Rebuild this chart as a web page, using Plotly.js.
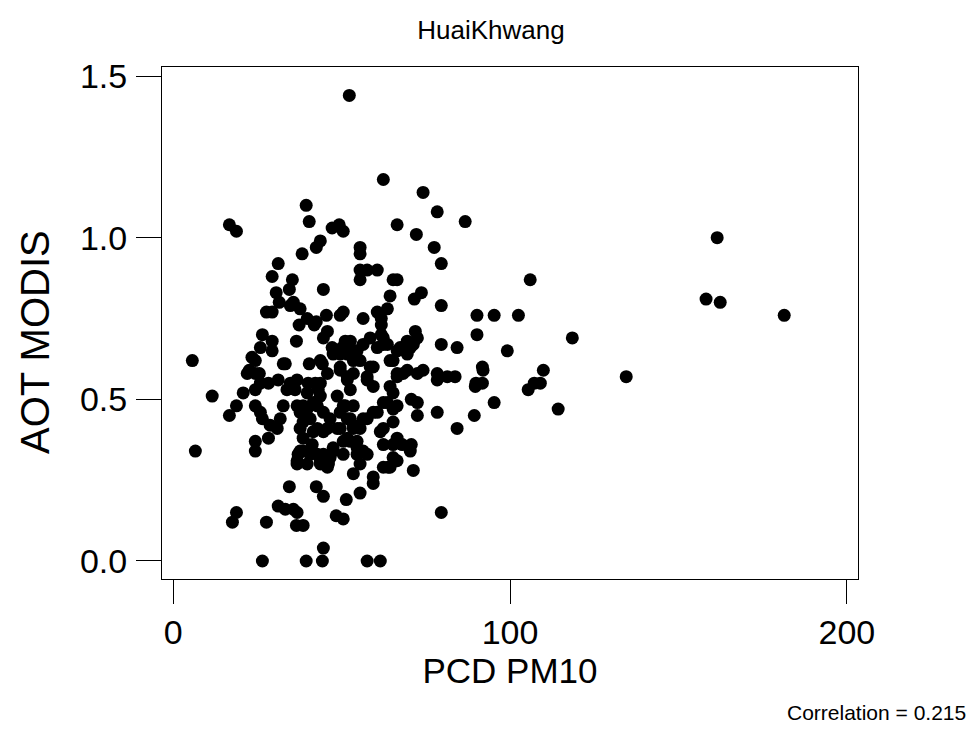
<!DOCTYPE html>
<html>
<head>
<meta charset="utf-8">
<script src="https://cdn.plot.ly/plotly-3.0.1.min.js"></script>
<style>html,body{margin:0;padding:0;background:#fff;}#chart{width:977px;height:730px;}</style>
</head>
<body>
<div id="chart"></div>
<script>
// PCD PM10 (x) and AOT MODIS (y)
var pm10 = [16.7,18.8,39.5,40.4,47.2,49.3,50.5,43.7,42.5,38.3,31.2,29.4,35.4,34.5,44.6,30.6,31.5,35.7,34.8,37.7,
27.7,29.4,39.8,45.5,49.6,50.5,37.4,41.9,42.5,26.5,29.4,36.6,44.6,45.8,51.1,25.9,47.2,50.2,52.3,62.4,
74.2,78.4,86.7,66.5,72.2,77.5,55.5,55.5,79.6,106.0,55.5,57.6,60.6,55.5,65.3,64.4,71.6,73.7,79.6,63.6,
60.6,56.4,61.8,90.2,95.3,102.5,90.2,61.8,61.8,58.5,71.9,69.5,72.5,52.6,62.4,56.4,79.6,84.3,99.2,67.4,
70.4,161.5,158.2,162.4,181.4,118.5,109.9,109.0,134.5,114.3,91.8,92.0,107.2,105.4,74.2,72.5,78.4,78.4,81.4,83.7,
89.9,91.8,89.7,95.3,70.7,72.5,72.5,78.4,89.4,84.3,62.4,65.3,65.3,61.5,62.4,65.3,68.0,70.7,65.3,54.6,
56.4,59.4,56.4,53.5,52.6,59.4,64.4,65.3,64.4,66.5,68.3,66.5,69.5,71.3,58.5,55.5,54.6,60.6,63.6,53.5,
57.6,54.6,57.6,55.5,63.8,71.3,53.5,59.4,55.5,79.6,57.6,61.5,70.4,6.6,24.4,37.1,36.8,39.8,43.7,46.1,
44.6,47.5,34.5,42.5,44.6,51.4,18.8,17.6,27.7,31.2,33.3,35.7,36.8,36.6,38.6,48.4,50.5,44.6,44.3,39.5,
26.5,5.7,11.6,16.7,18.8,20.8,22.0,22.6,25.6,23.4,29.4,33.3,40.4,43.7,44.3,45.8,47.5,49.6,51.7,49.6,
51.7,24.4,25.9,28.3,31.2,34.8,36.8,40.1,43.7,36.2,39.8,43.1,43.7,48.7,51.1,24.4,25.9,26.5,28.8,30.9,
32.7,36.8,37.7,39.8,40.7,42.8,44.6,46.6,49.6,51.7,53.5,37.7,38.6,41.6,45.8,49.6,51.7,53.5,24.4,28.3,
37.7,42.8,47.5,54.6,41.6,38.6,36.8,40.7,43.7,46.6,44.6,48.7,50.5,52.6,55.5,57.6,60.6,63.6,62.4,64.4,
59.4,52.6,50.5,32.7,66.5,52.6,62.4,65.3,49.6,53.5,59.4,51.7,57.6,66.5,69.5,66.5,24.4,24.4,31.8,42.2,
33.8,42.8,38.6,41.3,38.6,45.8,50.5,62.4,66.5,66.5];
var aot = [1.04,1.02,1.10,1.05,1.03,1.04,1.02,0.99,0.97,0.95,0.92,0.88,0.87,0.84,0.84,0.83,0.80,0.80,0.79,0.78,
0.77,0.77,0.75,0.76,0.76,0.77,0.73,0.73,0.74,0.70,0.68,0.68,0.69,0.71,0.68,0.66,0.66,0.66,1.44,1.18,
1.14,1.08,1.05,1.04,1.01,0.97,0.97,0.95,0.92,0.87,0.90,0.90,0.90,0.87,0.87,0.82,0.81,0.83,0.79,0.78,
0.77,0.75,0.75,0.76,0.76,0.76,0.70,0.73,0.70,0.69,0.71,0.68,0.69,0.68,0.67,0.67,0.67,0.66,0.65,0.66,
0.66,1.00,0.81,0.80,0.76,0.69,0.59,0.55,0.57,0.47,0.60,0.59,0.55,0.53,0.59,0.58,0.58,0.56,0.57,0.57,
0.55,0.55,0.54,0.49,0.50,0.49,0.45,0.46,0.45,0.41,0.49,0.47,0.43,0.40,0.36,0.36,0.36,0.36,0.32,0.37,
0.34,0.46,0.44,0.42,0.53,0.54,0.54,0.52,0.62,0.58,0.58,0.65,0.64,0.67,0.60,0.62,0.65,0.66,0.67,0.58,
0.57,0.33,0.33,0.30,0.29,0.28,0.27,0.24,0.21,0.15,0.00,0.00,0.34,0.34,0.34,0.33,0.30,0.30,0.30,0.30,
0.33,0.34,0.23,0.23,0.20,0.19,0.15,0.12,0.12,0.17,0.16,0.16,0.15,0.11,0.11,0.14,0.13,0.04,0.00,0.00,
0.00,0.62,0.51,0.45,0.48,0.52,0.58,0.59,0.58,0.63,0.65,0.61,0.61,0.62,0.61,0.58,0.64,0.64,0.64,0.59,
0.57,0.53,0.55,0.55,0.56,0.55,0.56,0.55,0.55,0.53,0.52,0.53,0.51,0.51,0.48,0.48,0.46,0.44,0.42,0.41,
0.48,0.48,0.46,0.47,0.44,0.48,0.46,0.44,0.46,0.44,0.48,0.41,0.38,0.40,0.41,0.41,0.38,0.41,0.37,0.38,
0.34,0.33,0.35,0.35,0.49,0.43,0.31,0.33,0.31,0.32,0.40,0.41,0.37,0.44,0.41,0.44,0.46,0.49,0.41,0.29,
0.26,0.37,0.48,0.61,0.87,0.65,0.69,0.62,0.60,0.62,0.60,0.56,0.56,0.57,0.59,0.48,0.62,0.58,0.44,0.55,
0.53,0.41,0.48,0.36,0.34,0.29,0.33,0.29,0.31,0.38];
var xTicks = [0, 100, 200];
var yTicks = [0.0, 0.5, 1.0, 1.5];
var yTickText = ['0.0', '0.5', '1.0', '1.5'];
var chartTitle = 'HuaiKhwang';
var xLabel = 'PCD PM10';
var yLabel = 'AOT MODIS';
var corrText = 'Correlation = 0.215';

var FONT = "'Liberation Sans', Arial, Helvetica, sans-serif";
var trace = {
  x: pm10, y: aot, type: 'scatter', mode: 'markers',
  marker: {color: '#000', size: 13, line: {width: 0}},
  hoverinfo: 'x+y'
};
var layout = {
  width: 977, height: 730,
  margin: {l: 162, r: 119, t: 67, b: 151, pad: 0},
  paper_bgcolor: '#fff', plot_bgcolor: '#fff',
  showlegend: false,
  font: {family: FONT, color: '#000'},
  title: {text: chartTitle, font: {family: FONT, size: 26, color: '#000'},
          x: 491/977, xref: 'container', xanchor: 'center',
          y: 1 - 30/730, yref: 'container', yanchor: 'middle'},
  xaxis: {
    range: [-3.3, 203.3], tickvals: xTicks, ticktext: xTicks.map(String),
    ticks: 'outside', ticklen: 24, tickwidth: 1, tickcolor: '#000',
    showline: true, mirror: true, linecolor: '#000', linewidth: 1,
    showgrid: false, zeroline: false,
    tickfont: {family: FONT, size: 34, color: '#000'}, ticklabelstandoff: -1,
    title: {text: xLabel, font: {family: FONT, size: 35, color: '#000'}, standoff: 6}
  },
  yaxis: {
    range: [-0.0557, 1.528], tickvals: yTicks, ticktext: yTickText,
    ticks: 'outside', ticklen: 25, tickwidth: 1, tickcolor: '#000',
    showline: true, mirror: true, linecolor: '#000', linewidth: 1,
    showgrid: false, zeroline: false,
    tickfont: {family: FONT, size: 34, color: '#000'}, ticklabelstandoff: 2
  },
  annotations: [{
    text: yLabel, showarrow: false, xref: 'paper', yref: 'paper', textangle: -90,
    x: (35-162)/696, xanchor: 'center', y: (579-342)/512, yanchor: 'middle',
    font: {family: FONT, size: 40, color: '#000'}
  }, {
    text: corrText, showarrow: false, xref: 'paper', yref: 'paper',
    x: (968-162)/696, xanchor: 'right', y: (579-712)/512, yanchor: 'middle',
    font: {family: FONT, size: 21, color: '#000'}
  }]
};
Plotly.newPlot('chart', [trace], layout, {displayModeBar: false, staticPlot: true});
</script>
</body>
</html>
